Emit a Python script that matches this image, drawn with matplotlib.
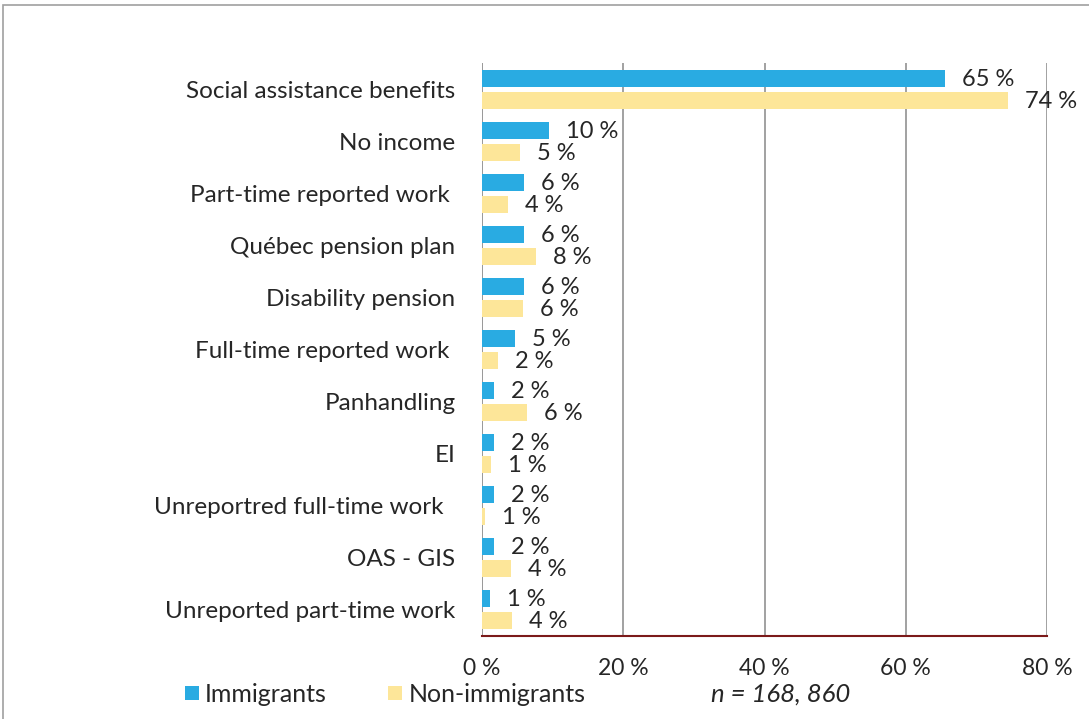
import matplotlib
matplotlib.use("Agg")
import matplotlib.pyplot as plt
from matplotlib.patches import Rectangle
import numpy as np

plt.rcParams['font.family'] = ['Lato', 'DejaVu Sans']

categories = ["Social assistance benefits", "No income", "Part-time reported work ",
              "Québec pension plan", "Disability pension", "Full-time reported work ",
              "Panhandling", "EI", "Unreportred full-time work  ", "OAS - GIS",
              "Unreported part-time work"]
immigrants = [65.6, 9.5, 5.9, 5.9, 5.9, 4.7, 1.7, 1.7, 1.7, 1.7, 1.1]
non_immigrants = [74.5, 5.4, 3.7, 7.6, 5.8, 2.3, 6.4, 1.3, 0.4, 4.1, 4.2]
imm_labels = ["65 %", "10 %", "6 %", "6 %", "6 %", "5 %", "2 %", "2 %", "2 %", "2 %", "1 %"]
non_labels = ["74 %", "5 %", "4 %", "8 %", "6 %", "2 %", "6 %", "1 %", "1 %", "4 %", "4 %"]
xticks = [0, 20, 40, 60, 80]
xticklabels = ["0 %", "20 %", "40 %", "60 %", "80 %"]

blue = '#29abe2'
yellow = '#fde699'
textc = '#262626'

W, H = 1089, 719
fig = plt.figure(figsize=(W / 100, H / 100), dpi=100)
ax = fig.add_axes([482 / W, 1 - 636 / H, (1047 - 482) / W, (636 - 63) / H])

n = len(categories)
y = np.arange(n)
bh = 17 / 52.1
off = 11 / 52.1
ax.barh(y - off, immigrants, height=bh, color=blue, zorder=3)
ax.barh(y + off, non_immigrants, height=bh, color=yellow, zorder=3)

dx = 17 / 7.0625
for i in range(n):
    ax.text(immigrants[i] + dx, y[i] - off + 0.02, imm_labels[i], va='center', ha='left',
            fontsize=17, color=textc, zorder=4)
    ax.text(non_immigrants[i] + dx, y[i] + off + 0.02, non_labels[i], va='center', ha='left',
            fontsize=17, color=textc, zorder=4)

ax.set_xlim(0, 80)
ax.set_ylim(n - 0.5, -0.5)
ax.set_xticks(xticks)
ax.set_xticklabels(xticklabels, fontsize=16.5, color=textc)
ax.tick_params(axis='x', length=0, pad=16)
ax.set_yticks(y)
ax.set_yticklabels(categories, fontsize=17.5, color=textc)
ax.tick_params(axis='y', length=0, pad=19)
for s in ['top', 'right', 'left']:
    ax.spines[s].set_visible(False)
ax.spines['bottom'].set_color('#7b1a1a')
ax.spines['bottom'].set_linewidth(1.5)
ax.spines['bottom'].set_zorder(5)
ax.grid(axis='x', color='#9a9a9a', linewidth=1.3, zorder=1)
ax.axvline(0, color='#9a9a9a', linewidth=1.3, zorder=2)
ax.set_axisbelow(True)

# outer frame
fig.patches.append(Rectangle((3 / W, -0.1), 1.2, 1 - 5 / H + 0.1, transform=fig.transFigure,
                             fill=False, edgecolor='#a0a0a0', linewidth=1.2))

# legend
ly = 1 - 694 / H
fig.patches.append(Rectangle((185 / W, 1 - 700 / H), 14 / W, 14 / H, transform=fig.transFigure,
                             facecolor=blue, edgecolor='none'))
fig.text(205 / W, ly, "Immigrants", fontsize=18, color=textc, va='center', ha='left')
fig.patches.append(Rectangle((388 / W, 1 - 700 / H), 14 / W, 14 / H, transform=fig.transFigure,
                             facecolor=yellow, edgecolor='none'))
fig.text(409 / W, ly, "Non-immigrants", fontsize=18, color=textc, va='center', ha='left')
fig.text(711 / W, ly, "n = 168, 860", fontsize=18.5, style='italic', color=textc, va='center', ha='left')

fig.savefig("out.png", dpi=100)
